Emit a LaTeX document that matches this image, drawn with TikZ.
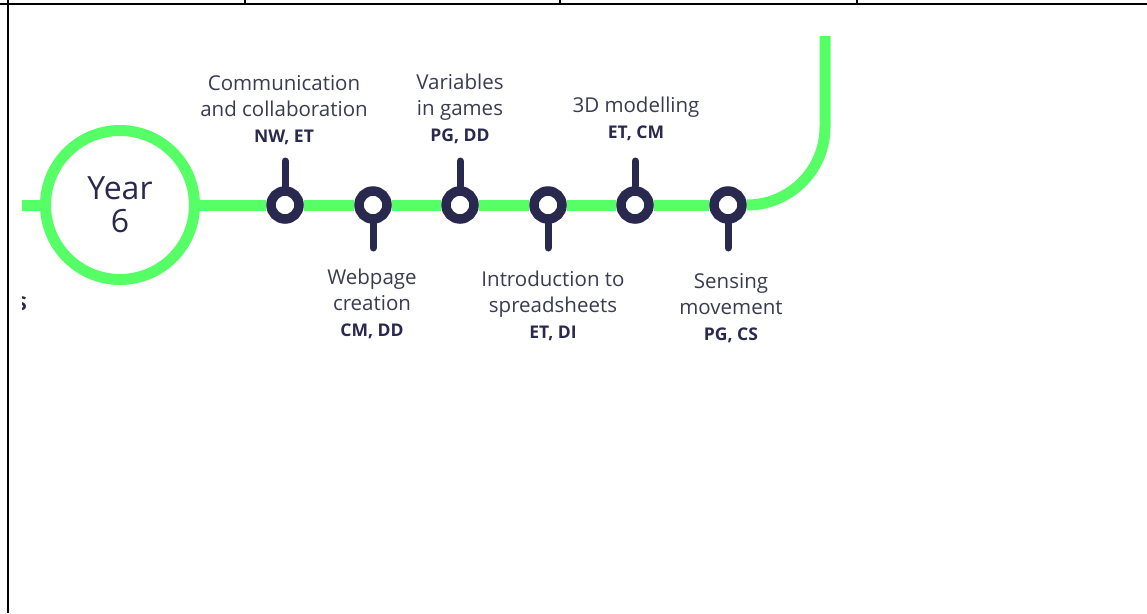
\documentclass[tikz,border=0pt]{standalone}
\usepackage{fontspec}
\setmainfont{Open Sans}
\definecolor{lime}{HTML}{57FF66}
\definecolor{navy}{HTML}{29294F}
\definecolor{labelgray}{HTML}{3A3A52}
\begin{document}
\begin{tikzpicture}[x=1pt,y=-1pt,
  track/.style={draw=lime,line width=11pt},
  station/.style={circle,draw=navy,line width=9.5pt,fill=white,minimum size=28pt,inner sep=0pt},
  stem/.style={draw=navy,line width=7pt,line cap=round},
  yearnode/.style={circle,draw=lime,line width=11pt,fill=white,minimum size=149pt,inner sep=0pt,
    text=navy,font=\fontsize{32}{33}\selectfont,align=center},
  lab/.style={text=labelgray,inner sep=0pt,font=\fontsize{20.5}{26}\selectfont},
  tablerule/.style={draw=black,line width=2pt},
  thinrule/.style={draw=black,line width=1.5pt}]
\useasboundingbox (0,0) rectangle (1147,613);
% table borders
\draw[tablerule] (0,4) -- (1147,4);
\draw[tablerule] (8,0) -- (8,613);
\draw[thinrule] (245,0) -- (245,4);
\draw[thinrule] (560,0) -- (560,4);
\draw[thinrule] (857,0) -- (857,4);
% nodes
\coordinate (start) at (22,205);
\coordinate (corner) at (825,205);
\coordinate (endtop) at (825,36);
\node[yearnode] (year) at (120,205) {Year\\6};
\node[station] (s1) at (285,205) {};
\node[station] (s2) at (373,205) {};
\node[station] (s3) at (460,205) {};
\node[station] (s4) at (548,205) {};
\node[station] (s5) at (635,205) {};
\node[station] (s6) at (728,205) {};
% track
\draw[track] (start) -- (year);
\draw[track] (year) -- (s1);
\draw[track] (s1) -- (s2);
\draw[track] (s2) -- (s3);
\draw[track] (s3) -- (s4);
\draw[track] (s4) -- (s5);
\draw[track] (s5) -- (s6);
\draw[track,rounded corners=78pt] (s6) -- (corner) -- (endtop);
% stems
\coordinate (t1) at (285,161);
\coordinate (t2) at (373,248);
\coordinate (t3) at (460,161);
\coordinate (t4) at (548,248);
\coordinate (t5) at (635,161);
\coordinate (t6) at (728,248);
\draw[stem] (s1) -- (t1);
\draw[stem] (s2) -- (t2);
\draw[stem] (s3) -- (t3);
\draw[stem] (s4) -- (t4);
\draw[stem] (s5) -- (t5);
\draw[stem] (s6) -- (t6);
% labels
\node[lab,anchor=base] (l1) at (284,142) {\begin{tabular}[b]{@{}c@{}}Communication\\and collaboration\\{\fontsize{17.5}{26}\selectfont\bfseries\color{navy}NW, ET}\end{tabular}};
\node[lab,anchor=base] (l3) at (460,141) {\begin{tabular}[b]{@{}c@{}}Variables\\in games\\{\fontsize{17.5}{26}\selectfont\bfseries\color{navy}PG, DD}\end{tabular}};
\node[lab,anchor=base] (l5) at (636,138) {\begin{tabular}[b]{@{}c@{}}3D modelling\\{\fontsize{17.5}{26}\selectfont\bfseries\color{navy}ET, CM}\end{tabular}};
\node[lab,anchor=base] (l2) at (372,284) {\begin{tabular}[t]{@{}c@{}}Webpage\\creation\\{\fontsize{17.5}{26}\selectfont\bfseries\color{navy}CM, DD}\end{tabular}};
\node[lab,anchor=base] (l4) at (553,286) {\begin{tabular}[t]{@{}c@{}}Introduction to\\spreadsheets\\{\fontsize{17.5}{26}\selectfont\bfseries\color{navy}ET, DI}\end{tabular}};
\node[lab,anchor=base] (l6) at (731,288) {\begin{tabular}[t]{@{}c@{}}Sensing\\movement\\{\fontsize{17.5}{26}\selectfont\bfseries\color{navy}PG, CS}\end{tabular}};
% clipped fragment at left
\begin{scope}
\clip (22,285) rectangle (40,320);
\node[inner sep=0pt,anchor=base east,text=navy,font=\fontsize{19}{20}\selectfont\bfseries] (frag) at (27,310) {S};
\end{scope}
\end{tikzpicture}
\end{document}
